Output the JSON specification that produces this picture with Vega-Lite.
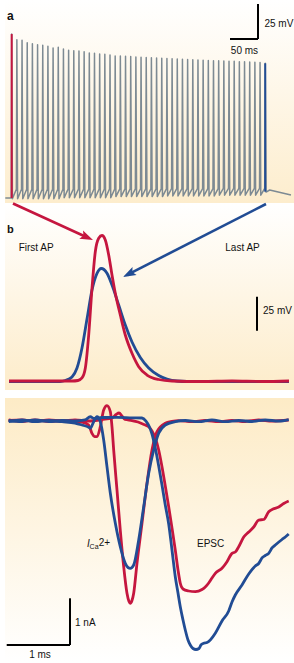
{
  "$schema": "https://vega.github.io/schema/vega-lite/v6.json",
  "padding": {"left": 3, "top": 0, "right": 0, "bottom": 0},
  "autosize": {"type": "pad"},
  "spacing": 0,
  "bounds": "flush",
  "background": "#ffffff",
  "config": {"view": {"stroke": null}, "text": {"font": "Liberation Sans", "color": "#111111"}},
  "datasets": {
    "train": [
      {"t": -11.4, "v": -70}, {"t": -0.8, "v": -70},
      {"t": 0, "v": 47.1}, {"t": 1.3, "v": -70.5}, {"t": 8.3, "v": -63.8},
      {"t": 9.24, "v": 43.1}, {"t": 10.54, "v": -70.5}, {"t": 17.54, "v": -63.8},
      {"t": 18.48, "v": 42.6}, {"t": 19.78, "v": -70.5}, {"t": 26.78, "v": -63.8},
      {"t": 27.72, "v": 40.9}, {"t": 29.02, "v": -70.5}, {"t": 36.02, "v": -63.8},
      {"t": 36.96, "v": 40.2}, {"t": 38.26, "v": -70.5}, {"t": 45.26, "v": -63.8},
      {"t": 46.2, "v": 39.5}, {"t": 47.5, "v": -70.5}, {"t": 54.5, "v": -63.8},
      {"t": 55.44, "v": 39.1}, {"t": 56.74, "v": -70.5}, {"t": 63.74, "v": -63.8},
      {"t": 64.68, "v": 38.4}, {"t": 65.98, "v": -70.5}, {"t": 72.98, "v": -63.8},
      {"t": 73.92, "v": 37.1}, {"t": 75.22, "v": -70.5}, {"t": 82.22, "v": -63.8},
      {"t": 83.16, "v": 37.6}, {"t": 84.46, "v": -70.5}, {"t": 91.46, "v": -63.8},
      {"t": 92.4, "v": 36.4}, {"t": 93.7, "v": -69.8}, {"t": 100.7, "v": -63.7},
      {"t": 101.64, "v": 35.5}, {"t": 102.94, "v": -69.8}, {"t": 109.94, "v": -63.7},
      {"t": 110.88, "v": 35.2}, {"t": 112.18, "v": -69.8}, {"t": 119.18, "v": -63.7},
      {"t": 120.12, "v": 35.0}, {"t": 121.42, "v": -69.8}, {"t": 128.42, "v": -63.7},
      {"t": 129.36, "v": 34.5}, {"t": 130.66, "v": -69.8}, {"t": 137.66, "v": -63.7},
      {"t": 138.6, "v": 33.6}, {"t": 139.9, "v": -69.8}, {"t": 146.9, "v": -63.7},
      {"t": 147.84, "v": 33.4}, {"t": 149.14, "v": -69.8}, {"t": 156.14, "v": -63.7},
      {"t": 157.08, "v": 32.9}, {"t": 158.38, "v": -69.8}, {"t": 165.38, "v": -63.7},
      {"t": 166.32, "v": 32.6}, {"t": 167.62, "v": -69.8}, {"t": 174.62, "v": -63.7},
      {"t": 175.56, "v": 32.1}, {"t": 176.86, "v": -69.8}, {"t": 183.86, "v": -63.7},
      {"t": 184.8, "v": 31.4}, {"t": 186.1, "v": -69.0}, {"t": 193.1, "v": -63.5},
      {"t": 194.04, "v": 31.4}, {"t": 195.34, "v": -69.0}, {"t": 202.34, "v": -63.5},
      {"t": 203.28, "v": 31.2}, {"t": 204.58, "v": -69.0}, {"t": 211.58, "v": -63.5},
      {"t": 212.52, "v": 31.1}, {"t": 213.82, "v": -69.0}, {"t": 220.82, "v": -63.5},
      {"t": 221.76, "v": 30.7}, {"t": 223.06, "v": -69.0}, {"t": 230.06, "v": -63.5},
      {"t": 231, "v": 30.5}, {"t": 232.3, "v": -69.0}, {"t": 239.3, "v": -63.5},
      {"t": 240.24, "v": 30.4}, {"t": 241.54, "v": -69.0}, {"t": 248.54, "v": -63.5},
      {"t": 249.48, "v": 30.1}, {"t": 250.78, "v": -69.0}, {"t": 257.78, "v": -63.5},
      {"t": 258.72, "v": 30.0}, {"t": 260.02, "v": -69.0}, {"t": 267.02, "v": -63.5},
      {"t": 267.96, "v": 29.8}, {"t": 269.26, "v": -69.0}, {"t": 276.26, "v": -63.5},
      {"t": 277.2, "v": 29.6}, {"t": 278.5, "v": -68.5}, {"t": 285.5, "v": -63.3},
      {"t": 286.44, "v": 29.4}, {"t": 287.74, "v": -68.5}, {"t": 294.74, "v": -63.3},
      {"t": 295.68, "v": 29.3}, {"t": 296.98, "v": -68.5}, {"t": 303.98, "v": -63.3},
      {"t": 304.92, "v": 29.1}, {"t": 306.22, "v": -68.5}, {"t": 313.22, "v": -63.3},
      {"t": 314.16, "v": 28.9}, {"t": 315.46, "v": -68.5}, {"t": 322.46, "v": -63.3},
      {"t": 323.4, "v": 28.7}, {"t": 324.7, "v": -68.5}, {"t": 331.7, "v": -63.3},
      {"t": 332.64, "v": 28.6}, {"t": 333.94, "v": -68.5}, {"t": 340.94, "v": -63.3},
      {"t": 341.88, "v": 28.4}, {"t": 343.18, "v": -68.5}, {"t": 350.18, "v": -63.3},
      {"t": 351.12, "v": 28.3}, {"t": 352.42, "v": -68.5}, {"t": 359.42, "v": -63.3},
      {"t": 360.36, "v": 28.1}, {"t": 361.66, "v": -68.5}, {"t": 368.66, "v": -63.3},
      {"t": 369.6, "v": 28.0}, {"t": 370.9, "v": -68.0}, {"t": 377.9, "v": -63.2},
      {"t": 378.84, "v": 27.9}, {"t": 380.14, "v": -68.0}, {"t": 387.14, "v": -63.2},
      {"t": 388.08, "v": 27.7}, {"t": 389.38, "v": -68.0}, {"t": 396.38, "v": -63.2},
      {"t": 397.32, "v": 27.6}, {"t": 398.62, "v": -68.0}, {"t": 405.62, "v": -63.2},
      {"t": 406.56, "v": 27.4}, {"t": 407.86, "v": -68.0}, {"t": 414.86, "v": -63.2},
      {"t": 415.8, "v": 27.3}, {"t": 417.1, "v": -68.0}, {"t": 424.1, "v": -63.2},
      {"t": 425.04, "v": 27.1}, {"t": 426.34, "v": -68.0}, {"t": 433.34, "v": -63.2},
      {"t": 434.28, "v": 26.9}, {"t": 435.58, "v": -68.0}, {"t": 442.58, "v": -63.2},
      {"t": 443.52, "v": 26.7}, {"t": 444.82, "v": -68.0}, {"t": 451.82, "v": -63.2},
      {"t": 452.76, "v": 26.2}, {"t": 454.3, "v": -65.8}, {"t": 460.7, "v": -64.3}, {"t": 498.7, "v": -67.9}
    ],
    "trainEnds": [
      {"ap": "first", "t": 0, "v": -70, "v2": 47.1},
      {"ap": "last", "t": 452.76, "v": -65.5, "v2": 26.2}
    ],
    "apFirst": [
      {"t": 0.04, "v": -70}, {"t": 0.37, "v": -70}, {"t": 0.67, "v": -70}, {"t": 0.73, "v": -69.63},
      {"t": 0.77, "v": -67.79}, {"t": 0.803, "v": -60.66}, {"t": 0.837, "v": -36.18}, {"t": 0.87, "v": -1.84},
      {"t": 0.903, "v": 25.07}, {"t": 0.937, "v": 34.93}, {"t": 0.97, "v": 36.99}, {"t": 1.003, "v": 33.68},
      {"t": 1.037, "v": 22.65}, {"t": 1.07, "v": 7.94}, {"t": 1.103, "v": -5.51}, {"t": 1.153, "v": -21.47},
      {"t": 1.203, "v": -36.18}, {"t": 1.27, "v": -49.63}, {"t": 1.337, "v": -59.49}, {"t": 1.42, "v": -65.59},
      {"t": 1.537, "v": -68.9}, {"t": 1.67, "v": -70}, {"t": 1.97, "v": -70.37}, {"t": 2.27, "v": -70},
      {"t": 2.57, "v": -70.37}, {"t": 2.84, "v": -70}
    ],
    "apLast": [
      {"t": 0.04, "v": -70.37}, {"t": 0.37, "v": -70.37}, {"t": 0.55, "v": -70.37}, {"t": 0.603, "v": -69.63},
      {"t": 0.67, "v": -67.06}, {"t": 0.72, "v": -60.44}, {"t": 0.77, "v": -45.74}, {"t": 0.82, "v": -24.41},
      {"t": 0.87, "v": -3.09}, {"t": 0.92, "v": 9.19}, {"t": 0.963, "v": 12.72}, {"t": 1.02, "v": 9.19},
      {"t": 1.07, "v": 0.59}, {"t": 1.137, "v": -14.12}, {"t": 1.203, "v": -28.82}, {"t": 1.27, "v": -41.32},
      {"t": 1.353, "v": -52.72}, {"t": 1.437, "v": -60.44}, {"t": 1.537, "v": -65.96}, {"t": 1.62, "v": -68.53},
      {"t": 1.72, "v": -70}, {"t": 1.82, "v": -70.37}, {"t": 2.17, "v": -70.37}, {"t": 2.47, "v": -70.37},
      {"t": 2.84, "v": -70.37}
    ],
    "arrows": [
      {"ap": "first", "t": 0.08, "v": 60.51, "t2": 0.807, "v2": 36.1, "tt": 0.88, "vt": 33.68},
      {"ap": "last", "t": 2.61, "v": 60.15, "t2": 1.251, "v2": 9.12, "tt": 1.18, "vt": 6.47}
    ],
    "caRed": [
      {"t": 0.058, "i": 0.011}, {"t": 0.269, "i": -0.021}, {"t": 0.474, "i": 0.015}, {"t": 0.695, "i": -0.021},
      {"t": 0.9, "i": 0}, {"t": 1.106, "i": -0.021}, {"t": 1.216, "i": -0.032}, {"t": 1.322, "i": -0.096},
      {"t": 1.374, "i": -0.274}, {"t": 1.414, "i": -0.347}, {"t": 1.453, "i": -0.343}, {"t": 1.506, "i": -0.133},
      {"t": 1.559, "i": 0.225}, {"t": 1.611, "i": 0.317}, {"t": 1.664, "i": 0.188}, {"t": 1.69, "i": -0.133},
      {"t": 1.717, "i": -0.632}, {"t": 1.769, "i": -1.488}, {"t": 1.821, "i": -2.345}, {"t": 1.875, "i": -3.131},
      {"t": 1.927, "i": -3.7}, {"t": 1.959, "i": -3.876}, {"t": 1.979, "i": -3.914}, {"t": 2.006, "i": -3.854},
      {"t": 2.033, "i": -3.7}, {"t": 2.085, "i": -3.058}, {"t": 2.164, "i": -2.201}, {"t": 2.243, "i": -1.345},
      {"t": 2.322, "i": -0.632}, {"t": 2.401, "i": -0.24}, {"t": 2.532, "i": -0.06}, {"t": 2.638, "i": -0.021},
      {"t": 2.744, "i": -0.004}, {"t": 2.954, "i": -0.026}, {"t": 3.164, "i": 0}, {"t": 3.376, "i": -0.026},
      {"t": 3.586, "i": 0}, {"t": 3.796, "i": -0.021}, {"t": 4.008, "i": 0.011}, {"t": 4.218, "i": -0.011},
      {"t": 4.482, "i": 0.011}
    ],
    "epscRed": [
      {"t": 0.058, "i": 0}, {"t": 0.269, "i": 0.011}, {"t": 0.474, "i": -0.021}, {"t": 0.695, "i": 0.011},
      {"t": 0.9, "i": -0.011}, {"t": 1.106, "i": 0.011}, {"t": 1.322, "i": -0.011}, {"t": 1.532, "i": 0.021},
      {"t": 1.69, "i": 0.054}, {"t": 1.754, "i": 0.128}, {"t": 1.801, "i": 0.161}, {"t": 1.848, "i": 0.096},
      {"t": 1.896, "i": 0.021}, {"t": 2.006, "i": 0}, {"t": 2.101, "i": -0.032}, {"t": 2.196, "i": -0.086},
      {"t": 2.275, "i": -0.139}, {"t": 2.322, "i": -0.225}, {"t": 2.374, "i": -0.375}, {"t": 2.428, "i": -0.632},
      {"t": 2.48, "i": -0.989}, {"t": 2.532, "i": -1.403}, {"t": 2.586, "i": -1.846}, {"t": 2.638, "i": -2.302},
      {"t": 2.69, "i": -2.773}, {"t": 2.733, "i": -3.201}, {"t": 2.769, "i": -3.486}, {"t": 2.812, "i": -3.608},
      {"t": 2.902, "i": -3.651}, {"t": 3.006, "i": -3.666}, {"t": 3.112, "i": -3.619}, {"t": 3.164, "i": -3.565},
      {"t": 3.218, "i": -3.48}, {"t": 3.27, "i": -3.373}, {"t": 3.322, "i": -3.272}, {"t": 3.428, "i": -3.165},
      {"t": 3.507, "i": -3.024}, {"t": 3.586, "i": -2.844}, {"t": 3.638, "i": -2.816}, {"t": 3.692, "i": -2.702},
      {"t": 3.771, "i": -2.495}, {"t": 3.85, "i": -2.388}, {"t": 3.929, "i": -2.281}, {"t": 4.008, "i": -2.131},
      {"t": 4.087, "i": -2.12}, {"t": 4.166, "i": -1.953}, {"t": 4.234, "i": -1.895}, {"t": 4.324, "i": -1.852},
      {"t": 4.403, "i": -1.777}, {"t": 4.482, "i": -1.724}
    ],
    "caBlue": [
      {"t": 0.058, "i": -0.026}, {"t": 0.269, "i": 0.011}, {"t": 0.474, "i": -0.026}, {"t": 0.695, "i": 0},
      {"t": 0.9, "i": -0.026}, {"t": 1.106, "i": -0.054}, {"t": 1.216, "i": -0.096}, {"t": 1.322, "i": -0.146},
      {"t": 1.348, "i": -0.167}, {"t": 1.401, "i": -0.026}, {"t": 1.453, "i": 0.081}, {"t": 1.506, "i": -0.026},
      {"t": 1.559, "i": -0.418}, {"t": 1.611, "i": -0.989}, {"t": 1.664, "i": -1.559}, {"t": 1.743, "i": -2.201},
      {"t": 1.821, "i": -2.702}, {"t": 1.9, "i": -3.058}, {"t": 1.943, "i": -3.148}, {"t": 1.979, "i": -3.165},
      {"t": 2.033, "i": -3.094}, {"t": 2.112, "i": -2.559}, {"t": 2.191, "i": -1.846}, {"t": 2.27, "i": -1.131},
      {"t": 2.349, "i": -0.632}, {"t": 2.428, "i": -0.274}, {"t": 2.532, "i": -0.096}, {"t": 2.69, "i": -0.026},
      {"t": 2.848, "i": 0}, {"t": 3.06, "i": -0.026}, {"t": 3.27, "i": 0.011}, {"t": 3.48, "i": -0.026},
      {"t": 3.692, "i": 0}, {"t": 3.902, "i": -0.021}, {"t": 4.112, "i": 0.011}, {"t": 4.324, "i": -0.011},
      {"t": 4.482, "i": 0.021}
    ],
    "epscBlue": [
      {"t": 0.058, "i": 0}, {"t": 0.269, "i": -0.021}, {"t": 0.474, "i": 0.011}, {"t": 0.695, "i": -0.021},
      {"t": 0.9, "i": 0}, {"t": 1.106, "i": -0.011}, {"t": 1.264, "i": 0.011}, {"t": 1.348, "i": 0.081},
      {"t": 1.406, "i": 0.043}, {"t": 1.532, "i": 0.064}, {"t": 1.769, "i": 0.069}, {"t": 2.006, "i": 0.058},
      {"t": 2.164, "i": 0.054}, {"t": 2.227, "i": -0.011}, {"t": 2.275, "i": -0.118}, {"t": 2.322, "i": -0.289},
      {"t": 2.374, "i": -0.589}, {"t": 2.428, "i": -0.974}, {"t": 2.48, "i": -1.381}, {"t": 2.532, "i": -1.809},
      {"t": 2.586, "i": -2.216}, {"t": 2.638, "i": -2.773}, {"t": 2.69, "i": -3.345}, {"t": 2.733, "i": -3.694},
      {"t": 2.769, "i": -3.987}, {"t": 2.812, "i": -4.272}, {"t": 2.848, "i": -4.486}, {"t": 2.891, "i": -4.7},
      {"t": 2.927, "i": -4.807}, {"t": 2.97, "i": -4.882}, {"t": 3.017, "i": -4.904}, {"t": 3.065, "i": -4.882},
      {"t": 3.096, "i": -4.807}, {"t": 3.139, "i": -4.771}, {"t": 3.191, "i": -4.754}, {"t": 3.243, "i": -4.7},
      {"t": 3.322, "i": -4.557}, {"t": 3.428, "i": -4.293}, {"t": 3.534, "i": -4.079}, {"t": 3.586, "i": -3.887},
      {"t": 3.638, "i": -3.737}, {"t": 3.744, "i": -3.522}, {"t": 3.85, "i": -3.287}, {"t": 3.954, "i": -3.116},
      {"t": 4.008, "i": -3.062}, {"t": 4.06, "i": -2.944}, {"t": 4.112, "i": -2.891}, {"t": 4.166, "i": -2.844},
      {"t": 4.218, "i": -2.73}, {"t": 4.27, "i": -2.666}, {"t": 4.376, "i": -2.548}, {"t": 4.428, "i": -2.495},
      {"t": 4.482, "i": -2.43}
    ]
  },
  "vconcat": [
    {
      "width": 291,
      "height": 203,
      "view": {"stroke": null, "fill": {"gradient": "linear", "x1": 0, "y1": 0, "x2": 0, "y2": 1, "stops": [{"offset": 0, "color": "#ffffff"}, {"offset": 1, "color": "#fdedcd"}]}},
      "encoding": {
        "x": {"field": "t", "type": "quantitative", "scale": {"domain": [-11.96, 507.7], "nice": false, "zero": false}, "axis": null},
        "y": {"field": "v", "type": "quantitative", "scale": {"domain": [-73.57, 71.43], "nice": false, "zero": false}, "axis": null}
      },
      "layer": [
        {"data": {"name": "train"}, "mark": {"type": "line", "color": "#7d8a93", "strokeWidth": 1.5, "strokeJoin": "round"}},
        {"data": {"name": "trainEnds"}, "mark": {"type": "rule", "strokeWidth": 2},
         "encoding": {"y2": {"field": "v2"}, "color": {"field": "ap", "type": "nominal", "scale": {"domain": ["first", "last"], "range": ["#c5163f", "#214c94"]}, "legend": null}}},
        {"data": {"values": [{"t": 439.8, "v": 68.57, "t2": 439.8, "v2": 43.57}, {"t": 389.8, "v": 43.57, "t2": 439.8, "v2": 43.57}]},
         "mark": {"type": "rule", "color": "#000000", "strokeWidth": 2},
         "encoding": {"x2": {"field": "t2"}, "y2": {"field": "v2"}}},
        {"data": {"values": [{"t": 451.4, "v": 54.29, "label": "25 mV"}]},
         "mark": {"type": "text", "align": "left", "baseline": "middle", "fontSize": 10},
         "encoding": {"text": {"field": "label"}}},
        {"data": {"values": [{"t": 415.7, "v": 35.0, "label": "50 ms"}]},
         "mark": {"type": "text", "align": "center", "baseline": "middle", "fontSize": 10},
         "encoding": {"text": {"field": "label"}}},
        {"data": {"values": [{"t": -8.39, "v": 60.0, "label": "a"}]},
         "mark": {"type": "text", "align": "left", "baseline": "middle", "fontSize": 12, "fontWeight": "bold"},
         "encoding": {"text": {"field": "label"}}}
      ]
    },
    {
      "width": 291,
      "height": 195,
      "view": {"stroke": null, "fill": {"gradient": "linear", "x1": 0, "y1": 0, "x2": 0, "y2": 1, "stops": [{"offset": 0, "color": "#ffffff"}, {"offset": 0.959, "color": "#fdecca"}, {"offset": 0.9591, "color": "#ffffff"}, {"offset": 1, "color": "#ffffff"}]}},
      "encoding": {
        "x": {"field": "t", "type": "quantitative", "scale": {"domain": [0, 2.91], "nice": false, "zero": false}, "axis": null},
        "y": {"field": "v", "type": "quantitative", "scale": {"domain": [-82.5, 60.88], "nice": false, "zero": false}, "axis": null}
      },
      "layer": [
        {"data": {"name": "apLast"}, "mark": {"type": "line", "color": "#214c94", "strokeWidth": 2.8, "interpolate": "monotone"}},
        {"data": {"name": "apFirst"}, "mark": {"type": "line", "color": "#c5163f", "strokeWidth": 2.8, "interpolate": "monotone"}},
        {"data": {"name": "arrows"}, "mark": {"type": "rule", "strokeWidth": 2.6},
         "encoding": {"x2": {"field": "t2"}, "y2": {"field": "v2"}, "color": {"field": "ap", "type": "nominal", "scale": {"domain": ["first", "last"], "range": ["#c5163f", "#214c94"]}, "legend": null}}},
        {"data": {"name": "arrows"}, "transform": [{"filter": "datum.ap === 'first'"}],
         "mark": {"type": "point", "shape": "M0,0L0.9,2.6L0,2.1L-0.9,2.6Z", "size": 100, "filled": true, "opacity": 1, "strokeWidth": 0, "angle": 114.5, "color": "#c5163f"},
         "encoding": {"x": {"field": "tt", "type": "quantitative"}, "y": {"field": "vt", "type": "quantitative"}}},
        {"data": {"name": "arrows"}, "transform": [{"filter": "datum.ap === 'last'"}],
         "mark": {"type": "point", "shape": "M0,0L0.9,2.6L0,2.1L-0.9,2.6Z", "size": 100, "filled": true, "opacity": 1, "strokeWidth": 0, "angle": 242.9, "color": "#214c94"},
         "encoding": {"x": {"field": "tt", "type": "quantitative"}, "y": {"field": "vt", "type": "quantitative"}}},
        {"data": {"values": [{"t": 2.52, "v": -8.01, "t2": 2.52, "v2": -33.01}]},
         "mark": {"type": "rule", "color": "#000000", "strokeWidth": 2},
         "encoding": {"x2": {"field": "t2"}, "y2": {"field": "v2"}}},
        {"data": {"values": [{"t": 2.58, "v": -18.53, "label": "25 mV"}, {"t": 0.137, "v": 27.79, "label": "First AP"}, {"t": 2.203, "v": 27.79, "label": "Last AP"}]},
         "mark": {"type": "text", "align": "left", "baseline": "middle", "fontSize": 10},
         "encoding": {"text": {"field": "label"}}},
        {"data": {"values": [{"t": 0.02, "v": 41.03, "label": "b"}]},
         "mark": {"type": "text", "align": "left", "baseline": "middle", "fontSize": 11, "fontWeight": "bold"},
         "encoding": {"text": {"field": "label"}}}
      ]
    },
    {
      "width": 291,
      "height": 265,
      "view": {"stroke": null, "fill": {"gradient": "linear", "x1": 0, "y1": 0, "x2": 0, "y2": 1, "stops": [{"offset": 0, "color": "#fdebc6"}, {"offset": 1, "color": "#ffffff"}]}},
      "encoding": {
        "x": {"field": "t", "type": "quantitative", "scale": {"domain": [0, 4.597], "nice": false, "zero": false}, "axis": null},
        "y": {"field": "i", "type": "quantitative", "scale": {"domain": [-5.193, 0.482], "nice": false, "zero": false}, "axis": null}
      },
      "layer": [
        {"data": {"name": "caRed"}, "mark": {"type": "line", "color": "#c5163f", "strokeWidth": 2.8, "interpolate": "monotone"}},
        {"data": {"name": "epscRed"}, "mark": {"type": "line", "color": "#c5163f", "strokeWidth": 2.8, "interpolate": "monotone"}},
        {"data": {"name": "caBlue"}, "mark": {"type": "line", "color": "#214c94", "strokeWidth": 2.8, "interpolate": "monotone"}},
        {"data": {"name": "epscBlue"}, "mark": {"type": "line", "color": "#214c94", "strokeWidth": 2.8, "interpolate": "monotone"}},
        {"data": {"values": [{"t": 1.027, "i": -3.807, "t2": 1.027, "i2": -4.807}, {"t": 0.027, "i": -4.807, "t2": 1.027, "i2": -4.807}]},
         "mark": {"type": "rule", "color": "#000000", "strokeWidth": 2},
         "encoding": {"x2": {"field": "t2"}, "y2": {"field": "i2"}}},
        {"data": {"values": [{"t": 1.106, "i": -4.347, "label": "1 nA"}, {"t": 3.033, "i": -2.638, "label": "EPSC"}, {"t": 1.48, "i": -2.623, "label": "2+"}]},
         "mark": {"type": "text", "align": "left", "baseline": "middle", "fontSize": 10},
         "encoding": {"text": {"field": "label"}}},
        {"data": {"values": [{"t": 0.553, "i": -5.021, "label": "1 ms"}]},
         "mark": {"type": "text", "align": "center", "baseline": "middle", "fontSize": 10},
         "encoding": {"text": {"field": "label"}}},
        {"data": {"values": [{"t": 1.295, "i": -2.634, "label": "I"}]},
         "mark": {"type": "text", "align": "left", "baseline": "middle", "fontSize": 10, "fontStyle": "italic"},
         "encoding": {"text": {"field": "label"}}},
        {"data": {"values": [{"t": 1.336, "i": -2.719, "label": "Ca"}]},
         "mark": {"type": "text", "align": "left", "baseline": "middle", "fontSize": 7},
         "encoding": {"text": {"field": "label"}}}
      ]
    }
  ]
}
